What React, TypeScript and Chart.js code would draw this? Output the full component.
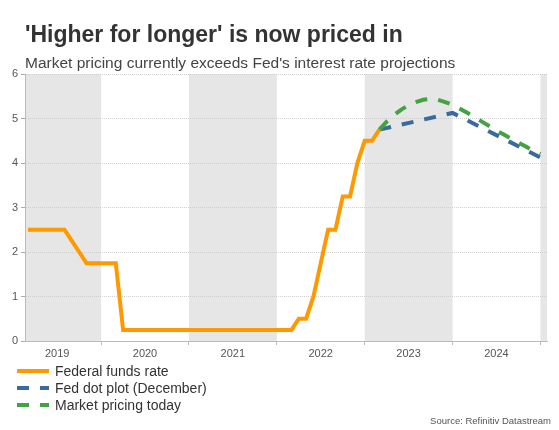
import React, { useEffect, useRef } from "react";
import { Chart, registerables } from "chart.js";

Chart.register(...registerables);

// ---- Texts ----
const TITLE = "'Higher for longer' is now priced in";
const SUBTITLE = "Market pricing currently exceeds Fed's interest rate projections";
const SOURCE = "Source: Refinitiv Datastream";

// ---- Series labels ----
const FFR_LABEL = "Federal funds rate";
const DOT_LABEL = "Fed dot plot (December)";
const MKT_LABEL = "Market pricing today";

// ---- Federal funds rate (month-end, upper bound) ----
const FFR_MONTHS = [
  "2019-02", "2019-03", "2019-04", "2019-05", "2019-06", "2019-07", "2019-08", "2019-09", "2019-10", "2019-11", "2019-12",
  "2020-01", "2020-02", "2020-03", "2020-04", "2020-05", "2020-06", "2020-07", "2020-08", "2020-09", "2020-10", "2020-11", "2020-12",
  "2021-01", "2021-02", "2021-03", "2021-04", "2021-05", "2021-06", "2021-07", "2021-08", "2021-09", "2021-10", "2021-11", "2021-12",
  "2022-01", "2022-02", "2022-03", "2022-04", "2022-05", "2022-06", "2022-07", "2022-08", "2022-09", "2022-10", "2022-11", "2022-12",
  "2023-01", "2023-02",
];
const FFR_VALUES = [
  2.5, 2.5, 2.5, 2.5, 2.5, 2.5, 2.25, 2.0, 1.75, 1.75, 1.75,
  1.75, 1.75, 0.25, 0.25, 0.25, 0.25, 0.25, 0.25, 0.25, 0.25, 0.25, 0.25,
  0.25, 0.25, 0.25, 0.25, 0.25, 0.25, 0.25, 0.25, 0.25, 0.25, 0.25, 0.25,
  0.25, 0.25, 0.5, 0.5, 1.0, 1.75, 2.5, 2.5, 3.25, 3.25, 4.0, 4.5,
  4.5, 4.75,
];

// ---- Fed dot plot (December) ----
const DOT_MONTHS = ["2023-02", "2023-12", "2024-12"];
const DOT_VALUES = [4.75, 5.125, 4.125];

// ---- Market pricing today ----
const MKT_MONTHS = [
  "2023-02", "2023-03", "2023-04", "2023-05", "2023-06", "2023-07", "2023-08", "2023-09", "2023-10", "2023-11", "2023-12",
  "2024-01", "2024-02", "2024-03", "2024-04", "2024-05", "2024-06", "2024-07", "2024-08", "2024-09", "2024-10", "2024-11", "2024-12",
];
const MKT_VALUES = [
  4.75, 4.93, 5.08, 5.2, 5.3, 5.37, 5.42, 5.44, 5.42, 5.37, 5.31,
  5.22, 5.13, 5.03, 4.93, 4.83, 4.73, 4.64, 4.55, 4.46, 4.37, 4.28, 4.2,
];

// ---- Axes ----
const BASE_YEAR = 2019;
const YEAR_BOUNDARIES = [2020, 2021, 2022, 2023, 2024, 2025];
const SHADED_YEARS = [2019, 2021, 2023, 2025];
const X_MIN = 1.6; // months after end of 2018
const X_MAX = 72.9;
const Y_MIN = 0;
const Y_MAX = 6;

// ---- Styles ----
const FONT = "'Liberation Sans', Arial, Helvetica, sans-serif";
const ORANGE = "#ff9900";
const BLUE = "#3b6a9c";
const GREEN = "#43a243";
const BAND = "#e6e6e6";

const monthIndex = (m: string) => {
  const [y, mo] = m.split("-").map(Number);
  return (y - BASE_YEAR) * 12 + mo;
};
const toPoints = (months: string[], values: number[]) =>
  months.map((m, i) => ({ x: monthIndex(m), y: values[i] }));

const bandsPlugin = {
  id: "bands",
  beforeDraw(chart: any) {
    const { ctx, chartArea, scales } = chart;
    const x = scales.x;
    ctx.save();
    ctx.fillStyle = BAND;
    SHADED_YEARS.forEach((yr) => {
      const a = Math.max(x.getPixelForValue((yr - BASE_YEAR) * 12), chartArea.left);
      const b = Math.min(x.getPixelForValue((yr - BASE_YEAR + 1) * 12), chartArea.right);
      if (b > a) ctx.fillRect(a, chartArea.top, b - a, chartArea.bottom - chartArea.top);
    });
    ctx.restore();
  },
};

const textPlugin = {
  id: "texts",
  afterDraw(chart: any) {
    const { ctx } = chart;
    ctx.save();
    // Title
    ctx.fillStyle = "#333333";
    ctx.textAlign = "left";
    ctx.textBaseline = "alphabetic";
    ctx.font = `bold 23px ${FONT}`;
    ctx.fillText(TITLE, 25, 42);
    // Subtitle
    ctx.fillStyle = "#444444";
    ctx.font = `15.5px ${FONT}`;
    ctx.fillText(SUBTITLE, 25, 68);
    // Legend
    const rows = [371, 388, 405];
    chart.data.datasets.forEach((ds: any, i: number) => {
      const y = rows[i];
      ctx.save();
      ctx.strokeStyle = ds.borderColor;
      ctx.lineWidth = ds.borderWidth;
      ctx.lineCap = "butt";
      ctx.setLineDash(ds.borderDash || []);
      ctx.beginPath();
      ctx.moveTo(17, y);
      ctx.lineTo(49, y);
      ctx.stroke();
      ctx.restore();
      ctx.fillStyle = "#333333";
      ctx.font = `14px ${FONT}`;
      ctx.textBaseline = "middle";
      ctx.textAlign = "left";
      ctx.fillText(ds.label, 55, y + 1);
    });
    // Source
    ctx.fillStyle = "#555555";
    ctx.font = `9.5px ${FONT}`;
    ctx.textAlign = "right";
    ctx.textBaseline = "middle";
    ctx.fillText(SOURCE, 551, 421);
    ctx.restore();
  },
};

export default function App() {
  const ref = useRef<HTMLCanvasElement | null>(null);

  useEffect(() => {
    if (!ref.current) return;
    Chart.defaults.font.family = FONT;
    const chart = new Chart(ref.current, {
      type: "line",
      data: {
        datasets: [
          {
            label: FFR_LABEL,
            data: toPoints(FFR_MONTHS, FFR_VALUES),
            borderColor: ORANGE,
            backgroundColor: ORANGE,
            borderWidth: 4,
            pointRadius: 0,
            tension: 0,
            order: 0,
          },
          {
            label: DOT_LABEL,
            data: toPoints(DOT_MONTHS, DOT_VALUES),
            borderColor: BLUE,
            backgroundColor: BLUE,
            borderWidth: 4,
            borderDash: [12, 11],
            borderCapStyle: "butt",
            pointRadius: 0,
            tension: 0,
            order: 2,
          },
          {
            label: MKT_LABEL,
            data: toPoints(MKT_MONTHS, MKT_VALUES),
            borderColor: GREEN,
            backgroundColor: GREEN,
            borderWidth: 4,
            borderDash: [12, 11],
            borderCapStyle: "butt",
            pointRadius: 0,
            tension: 0,
            order: 1,
          },
        ],
      },
      options: {
        responsive: false,
        animation: false,
        devicePixelRatio: 1,
        layout: { padding: { top: 74, right: 12, bottom: 0, left: 0 } },
        plugins: {
          legend: { display: false },
          tooltip: { enabled: false },
          title: { display: false },
        },
        scales: {
          x: {
            type: "linear",
            min: X_MIN,
            max: X_MAX,
            afterBuildTicks: (s: any) => {
              s.ticks = YEAR_BOUNDARIES.map((y) => ({ value: (y - BASE_YEAR) * 12 }));
            },
            afterFit: (s: any) => {
              s.height = 89;
            },
            grid: {
              display: true,
              drawOnChartArea: false,
              drawTicks: true,
              tickLength: 4,
              tickColor: "#bbbbbb",
            },
            border: { display: true, color: "#bbbbbb", width: 1 },
            ticks: {
              autoSkip: false,
              maxRotation: 0,
              minRotation: 0,
              labelOffset: -44,
              padding: 2,
              color: "#555555",
              font: { size: 11, family: FONT },
              callback: (v: any) => String(BASE_YEAR + Number(v) / 12 - 1),
            },
          },
          y: {
            type: "linear",
            min: Y_MIN,
            max: Y_MAX,
            afterFit: (s: any) => {
              s.width = 25;
            },
            grid: {
              color: "#cfcfcf",
              drawTicks: true,
              tickLength: 4,
              tickColor: "#aaaaaa",
              tickBorderDash: [],
            },
            border: { display: true, color: "#bbbbbb", width: 1, dash: [1, 1] },
            ticks: {
              stepSize: 1,
              padding: 3,
              color: "#555555",
              font: { size: 11, family: FONT },
            },
          },
        },
      },
      plugins: [bandsPlugin, textPlugin],
    } as any);
    return () => chart.destroy();
  }, []);

  return (
    <div style={{ position: "absolute", left: 0, top: 0, width: 559, height: 430, background: "#ffffff" }}>
      <canvas ref={ref} width={559} height={430} style={{ width: 559, height: 430, display: "block" }} />
    </div>
  );
}
